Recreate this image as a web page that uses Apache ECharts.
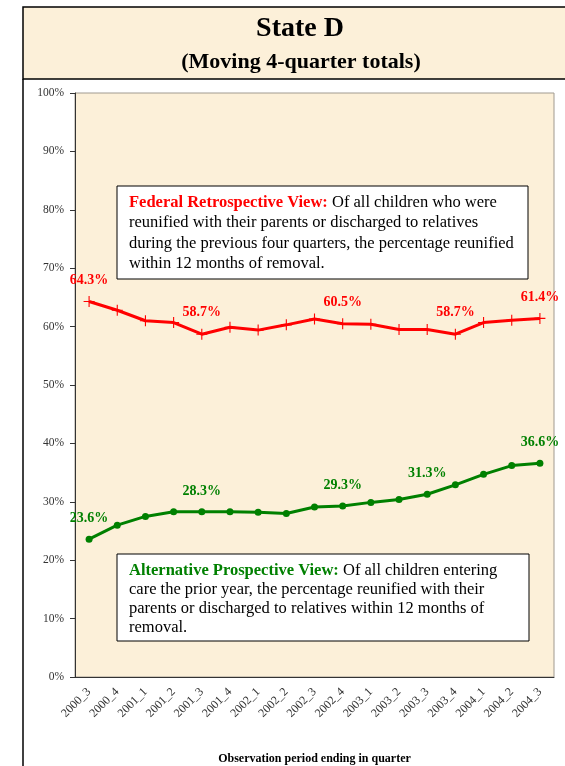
<!DOCTYPE html>
<html>
<head>
<meta charset="utf-8">
<title>State D</title>
<script src="https://cdn.jsdelivr.net/npm/echarts@6/dist/echarts.min.js"></script>
<style>
    html, body { margin: 0; padding: 0; background: #fff; }
    .chart-box { width: 565px; height: 766px; }
</style>
</head>
<body>
<div class="chart-box"></div>
<script>
// 季度
var categories = ['2000_3', '2000_4', '2001_1', '2001_2', '2001_3', '2001_4', '2002_1', '2002_2', '2002_3',
    '2002_4', '2003_1', '2003_2', '2003_3', '2003_4', '2004_1', '2004_2', '2004_3'];
// Federal Retrospective View
var federal = [64.3, 62.8, 61.0, 60.7, 58.7, 59.9, 59.4, 60.3, 61.3, 60.5, 60.4, 59.5, 59.5, 58.7, 60.7, 61.1, 61.4];
var federalLabelIdx = [0, 4, 9, 13, 16];
// Alternative Prospective View
var alternative = [23.6, 26.0, 27.5, 28.3, 28.3, 28.3, 28.2, 28.0, 29.1, 29.3, 29.9, 30.4, 31.3, 32.9, 34.7, 36.2, 36.6];
var alternativeLabelIdx = [0, 4, 9, 12, 16];
// y轴刻度
var yMin = 0, yMax = 100, yStep = 10;

var serif = '"Liberation Serif", "DejaVu Serif", serif';
var paper = '#fcf0d9';

function withLabels(values, idx) {
    return values.map(function (v, i) {
        return { value: v, label: { show: idx.indexOf(i) > -1 } };
    });
}

var myChart = echarts.init(document.querySelector('.chart-box'));
var option = {
    animation: false,
    backgroundColor: '#fff',
    grid: {
        left: 75,
        right: 11,
        top: 93,
        bottom: 89,
        containLabel: false,
        outerBoundsMode: 'none',
        show: true,
        backgroundColor: paper,
        borderColor: '#a09a90',
        borderWidth: 1
    },
    xAxis: {
        type: 'category',
        data: categories,
        boundaryGap: true,
        name: 'Observation period ending in quarter',
        nameLocation: 'middle',
        nameGap: 76,
        nameTextStyle: { fontFamily: serif, fontWeight: 'bold', fontSize: 12, color: '#000' },
        axisLine: { lineStyle: { color: '#333', width: 1 } },
        axisTick: { length: 5, lineStyle: { color: '#333' } },
        axisLabel: {
            rotate: 45,
            interval: 0,
            fontFamily: serif,
            fontSize: 12,
            color: '#333',
            margin: 13
        }
    },
    yAxis: {
        type: 'value',
        min: yMin,
        max: yMax,
        interval: yStep,
        axisLine: { show: true, lineStyle: { color: '#333', width: 1 } },
        axisTick: { show: true, length: 5, lineStyle: { color: '#333' } },
        splitLine: { show: false },
        axisLabel: {
            formatter: '{value}%',
            fontFamily: serif,
            fontSize: 11.5,
            color: '#333',
            margin: 11
        }
    },
    series: [
        {
            name: 'Federal Retrospective View',
            type: 'line',
            data: withLabels(federal, federalLabelIdx),
            symbol: 'path://M4.5,0h1v4.5h4.5v1h-4.5v4.5h-1v-4.5h-4.5v-1h4.5z',
            symbolSize: 11,
            lineStyle: { color: '#ff0000', width: 3 },
            itemStyle: { color: '#ff0000' },
            label: {
                position: 'top',
                distance: 9,
                fontFamily: serif,
                fontWeight: 'bold',
                fontSize: 14,
                color: '#ff0000',
                formatter: function (p) { return p.value.toFixed(1) + '%'; }
            }
        },
        {
            name: 'Alternative Prospective View',
            type: 'line',
            data: withLabels(alternative, alternativeLabelIdx),
            symbol: 'circle',
            symbolSize: 7,
            lineStyle: { color: '#008000', width: 3 },
            itemStyle: { color: '#008000' },
            label: {
                position: 'top',
                distance: 10,
                fontFamily: serif,
                fontWeight: 'bold',
                fontSize: 14,
                color: '#008000',
                formatter: function (p) { return p.value.toFixed(1) + '%'; }
            }
        }
    ],
    graphic: [
        // 标题框
        {
            type: 'rect',
            shape: { x: 23, y: 7, width: 560, height: 72 },
            style: { fill: paper, stroke: '#000', lineWidth: 1.5 }
        },
        {
            type: 'line',
            shape: { x1: 23, y1: 79, x2: 23, y2: 766 },
            style: { stroke: '#000', lineWidth: 1.5 }
        },
        {
            type: 'text',
            style: {
                x: 300, y: 29, text: 'State D',
                font: 'bold 28px ' + serif, fill: '#000',
                textAlign: 'center', textVerticalAlign: 'middle'
            }
        },
        {
            type: 'text',
            style: {
                x: 301, y: 62, text: '(Moving 4-quarter totals)',
                font: 'bold 22px ' + serif, fill: '#000',
                textAlign: 'center', textVerticalAlign: 'middle'
            }
        },
        // 说明框
        {
            type: 'rect',
            z: 100,
            shape: { x: 117, y: 186, width: 411, height: 93 },
            style: { fill: '#fff', stroke: '#000', lineWidth: 1 }
        },
        {
            type: 'text',
            z: 101,
            style: {
                x: 129, y: 192,
                text: '{a|Federal Retrospective View:} Of all children who were\nreunified with their parents or discharged to relatives\nduring the previous four quarters, the percentage reunified\nwithin 12 months of removal.',
                font: '16.5px ' + serif,
                fill: '#000',
                lineHeight: 20.5,
                rich: {
                    a: { font: 'bold 16.5px ' + serif, fill: '#ff0000', lineHeight: 20.5 }
                }
            }
        },
        {
            type: 'rect',
            z: 100,
            shape: { x: 117, y: 554, width: 412, height: 87 },
            style: { fill: '#fff', stroke: '#000', lineWidth: 1 }
        },
        {
            type: 'text',
            z: 101,
            style: {
                x: 129, y: 561,
                text: '{a|Alternative Prospective View:} Of all children entering\ncare the prior year, the percentage reunified with their\nparents or discharged to relatives within 12 months of\nremoval.',
                font: '16.5px ' + serif,
                fill: '#000',
                lineHeight: 19,
                rich: {
                    a: { font: 'bold 16.5px ' + serif, fill: '#008000', lineHeight: 19 }
                }
            }
        }
    ]
};
myChart.setOption(option);
</script>
</body>
</html>
